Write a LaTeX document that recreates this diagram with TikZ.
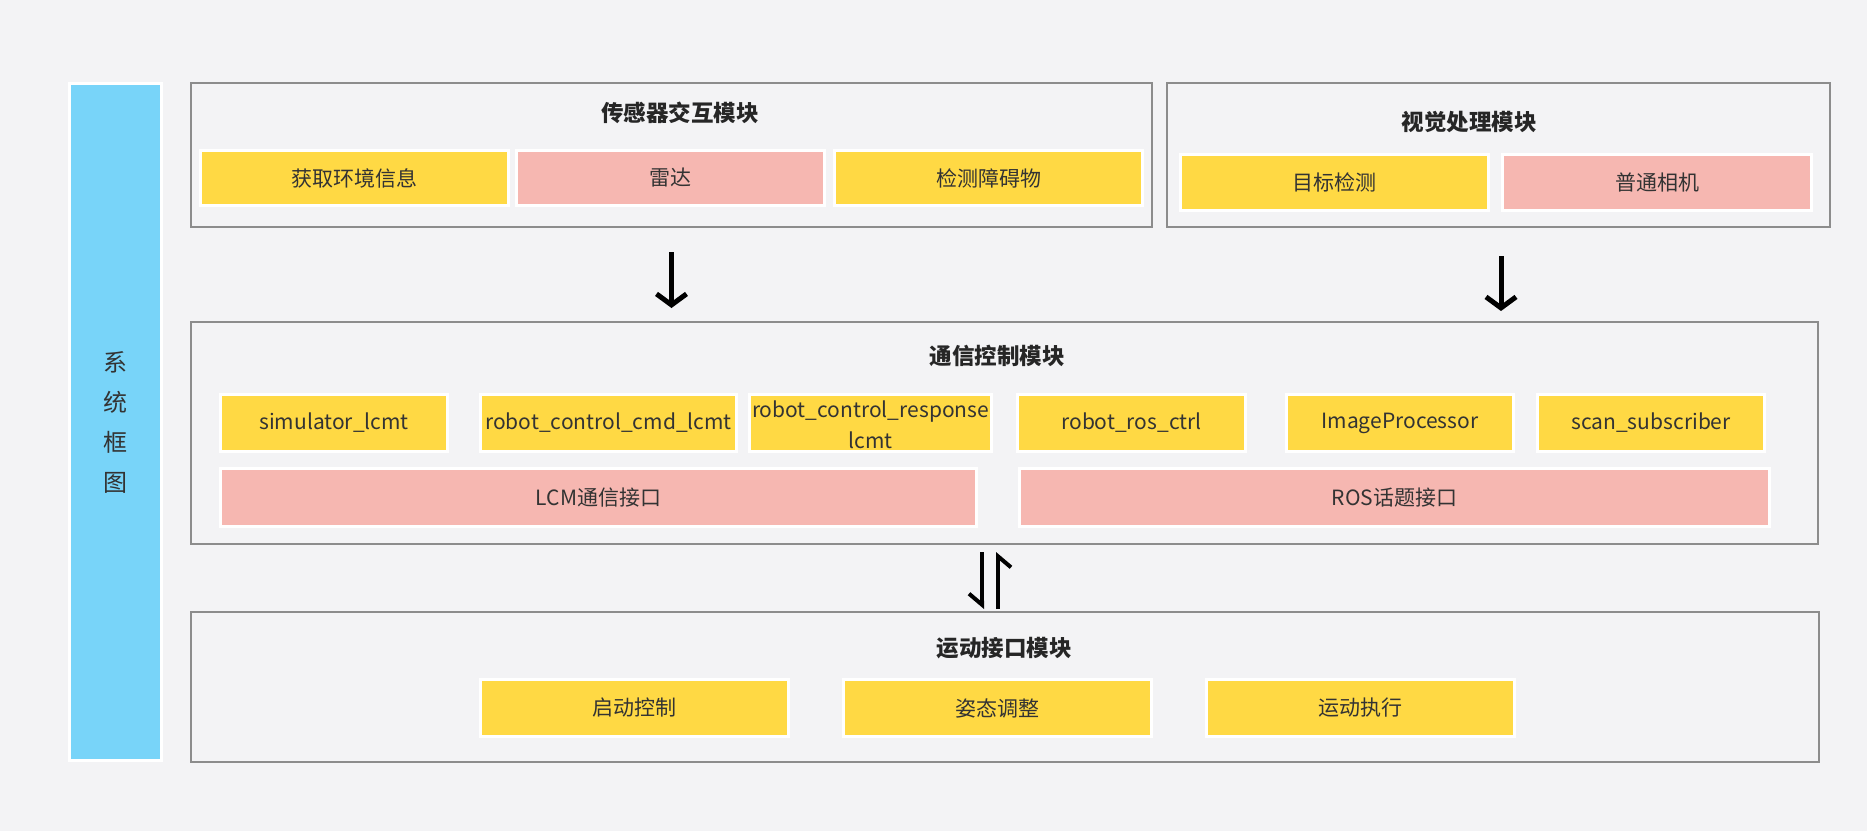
\documentclass[tikz,border=0pt]{standalone}
\usepackage{fontspec}
\setmainfont{Noto Sans CJK SC}
\usetikzlibrary{arrows.meta}

\definecolor{bggray}{HTML}{F3F3F5}
\definecolor{modgray}{HTML}{8C8C8C}
\definecolor{itemyellow}{HTML}{FFD944}
\definecolor{itempink}{HTML}{F6B7B1}
\definecolor{barblue}{HTML}{78D4F9}
\definecolor{textgray}{HTML}{333333}

\begin{document}
\begin{tikzpicture}[x=1pt, y=-1pt,
  every node/.style={inner sep=0pt, outer sep=0pt},
  modbox/.style={draw=modgray, line width=1.8pt},
  modtitle/.style={font=\fontsize{22.5}{26}\selectfont\bfseries, text=black!85},
  item/.style={draw=white, line width=3pt, minimum height=57pt, text=textgray,
    font=\fontsize{21}{31}\selectfont, align=center},
  yitem/.style={item, fill=itemyellow},
  pitem/.style={item, fill=itempink},
  flow/.style={line width=5pt, -{Straight Barb[length=11pt, width=30pt]}},
  halfflow/.style={line width=4pt, -{Straight Barb[length=11pt, width=26pt, right]}}]
  \fill[bggray] (0,0) rectangle (1867,831);

  % left bar
  \node[draw=white, line width=3pt, fill=barblue, minimum width=92pt, minimum height=677pt,
    text=textgray, align=center, font=\fontsize{24}{40}\selectfont] (bar) at (115.5,422) {系\\统\\框\\图};

  % module frames
  \node[modbox, minimum width=961pt, minimum height=144pt] (sensor) at (671.5,155) {};
  \node[modbox, minimum width=663pt, minimum height=144pt] (vision) at (1498.5,155) {};
  \node[modbox, minimum width=1627pt, minimum height=222pt] (comm) at (1004.5,433) {};
  \node[modbox, minimum width=1628pt, minimum height=150pt] (motion) at (1005,687) {};

  % sensor
  \node[modtitle] (sensortitle) at (680,113) {传感器交互模块};
  \node[yitem, minimum width=308pt, minimum height=55pt] (env) at (354.5,178) {获取环境信息};
  \node[pitem, minimum width=308pt, minimum height=55pt] (lidar) at (670.5,178) {雷达};
  \node[yitem, minimum width=308pt, minimum height=55pt] (obstacle) at (988.5,178) {检测障碍物};

  % vision
  \node[modtitle] (visiontitle) at (1469,122) {视觉处理模块};
  \node[yitem, minimum width=308pt, minimum height=56pt] (detect) at (1334.5,182.5) {目标检测};
  \node[pitem, minimum width=309pt, minimum height=56pt] (camera) at (1657,182.5) {普通相机};

  % communication
  \node[modtitle] (commtitle) at (997,356) {通信控制模块};
  \node[yitem, minimum width=227pt] (sim) at (334,423) {simulator\_lcmt};
  \node[yitem, minimum width=256pt] (cmd) at (608.5,423) {robot\_control\_cmd\_lcmt};
  \node[yitem, minimum width=242pt] (resp) at (870.5,423) {};
  \node[text=textgray, align=center, font=\fontsize{21}{31}\selectfont] (resptext) at ([yshift=-2pt]resp.center) {robot\_control\_response\\lcmt};
  \node[yitem, minimum width=228pt] (rosctrl) at (1131.5,423) {robot\_ros\_ctrl};
  \node[yitem, minimum width=227pt] (imgproc) at (1400,423) {ImageProcessor};
  \node[yitem, minimum width=227pt] (scansub) at (1651,423) {scan\_subscriber};
  \node[pitem, minimum width=756pt, minimum height=58pt] (lcm) at (598.5,497.5) {LCM通信接口};
  \node[pitem, minimum width=750pt, minimum height=58pt] (ros) at (1394.5,497.5) {ROS话题接口};

  % motion
  \node[modtitle] (motiontitle) at (1004,648) {运动接口模块};
  \node[yitem, minimum width=308pt] (start) at (634.5,708) {启动控制};
  \node[yitem, minimum width=308pt] (pose) at (997.5,708) {姿态调整};
  \node[yitem, minimum width=308pt] (move) at (1360.5,708) {运动执行};

  % flows
  \draw[flow, shorten <=25pt, shorten >=14pt] (sensor.south) -- (sensor.south |- comm.north);
  \draw[flow, shorten <=29pt, shorten >=11pt] ([xshift=2.5pt]vision.south) -- ([xshift=2.5pt]vision.south |- comm.north);
  \draw[halfflow, shorten <=8pt, shorten >=3pt] ([xshift=-22.5pt]comm.south) -- ([xshift=-22.5pt]comm.south |- motion.north);
  \draw[halfflow, shorten <=3pt, shorten >=8pt] ([xshift=-6.5pt]comm.south |- motion.north) -- ([xshift=-6.5pt]comm.south);
\end{tikzpicture}
\end{document}
